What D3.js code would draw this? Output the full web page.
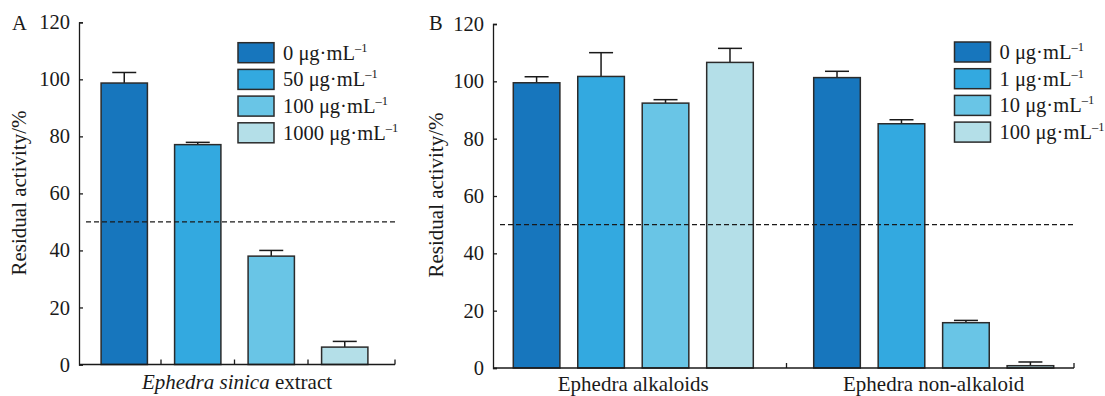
<!DOCTYPE html>
<html>
<head>
<meta charset="utf-8">
<script src="https://cdn.jsdelivr.net/npm/d3@7"></script>
<style>
  body { margin: 0; background: #fff; }
  text { font-family: "Liberation Serif", "Times New Roman", serif; fill: #1a1a1a; }
</style>
</head>
<body>
<svg id="chart" width="1105" height="396"></svg>
<script>
// panel A
var concA   = ['0', '50', '100', '1000'];
var valuesA = [98.7, 77.1, 38.0, 6.1];
var errorsA = [3.7, 0.8, 2.0, 2.0];

// panel B
var groupsB = ['Ephedra alkaloids', 'Ephedra non-alkaloid'];
var concB   = ['0', '1', '10', '100'];
var valuesB = [[99.5, 101.7, 92.4, 106.6], [101.3, 85.2, 15.8, 0.8]];
var errorsB = [[2.1, 8.3, 1.2, 4.9], [2.2, 1.4, 0.8, 1.3]];

var yTicks = [0, 20, 40, 60, 80, 100, 120];
var threshold = 50;
var colors = ['#1776bd', '#33a9e0', '#69c5e6', '#b4dfe8'];

var svg = d3.select('#chart');

function yAxis(g, y) {
    g.call(d3.axisLeft(y).tickValues(yTicks).tickSizeInner(-4).tickSizeOuter(-4).tickPadding(9));
    g.selectAll('path, line').attr('stroke', '#1a1a1a').attr('stroke-width', 1.3);
    g.selectAll('text').attr('font-size', 20.5).attr('fill', '#1a1a1a')
        .style('font-family', '"Liberation Serif", serif');
}

function legend(g, conc, x, y) {
    conc.forEach(function(c, i) {
        var row = g.append('g').attr('transform', 'translate(' + x + ',' + (y + i * 26.7) + ')');
        row.append('rect')
            .attr('width', 36).attr('height', 20)
            .attr('fill', colors[i]).attr('stroke', '#2b2b2b').attr('stroke-width', 1.5);
        var t = row.append('text').attr('x', 45).attr('y', 17).attr('font-size', 20.5);
        t.append('tspan').text(c + ' \u03bcg\u00b7mL');
        t.append('tspan').attr('font-size', 12.5).attr('dy', -8).text('\u20131');
    });
}

function errorBar(g, cx, top, errTop) {
    g.append('line').attr('x1', cx).attr('x2', cx).attr('y1', top).attr('y2', errTop)
        .attr('stroke', '#1a1a1a').attr('stroke-width', 1.5);
    g.append('line').attr('x1', cx - 12).attr('x2', cx + 12).attr('y1', errTop).attr('y2', errTop)
        .attr('stroke', '#1a1a1a').attr('stroke-width', 1.5);
}

function bar(g, x, w, y, v, e, color) {
    errorBar(g, x + w / 2, y(v), y(v + e));
    g.append('rect')
        .attr('x', x).attr('y', y(v))
        .attr('width', w).attr('height', y(0) - y(v))
        .attr('fill', color).attr('stroke', '#2b2b2b').attr('stroke-width', 1.5);
}

function yLabel(g, x, y) {
    g.append('text')
        .attr('transform', 'translate(' + x + ',' + y + ') rotate(-90)')
        .attr('text-anchor', 'middle').attr('font-size', 21)
        .text('Residual activity/%');
}

function dashed(g, x1, x2, y) {
    g.append('line')
        .attr('x1', x1).attr('x2', x2).attr('y1', y).attr('y2', y)
        .attr('stroke', '#1a1a1a').attr('stroke-width', 1.2).attr('stroke-dasharray', '5,3');
}

// ---------- panel A ----------
var axA = 79, axAEnd = 395;
var yA = d3.scaleLinear().domain([0, 120]).range([364.5, 22.3]);
var xA = d3.scaleBand().domain(concA).range([87.5, 381.5]).paddingInner(0.37).paddingOuter(0.185);

var gA = svg.append('g');

concA.forEach(function(c, i) {
    bar(gA, xA(c), xA.bandwidth(), yA, valuesA[i], errorsA[i], colors[i]);
});
dashed(gA, 86, axAEnd, yA(threshold));

gA.append('line').attr('x1', axA).attr('x2', axAEnd).attr('y1', yA(0)).attr('y2', yA(0))
    .attr('stroke', '#1a1a1a').attr('stroke-width', 1.3);
var ticksA = concA.slice(1).map(function(c) { return xA(c) - xA.step() * xA.paddingInner() / 2; });
ticksA.push(axAEnd);
ticksA.forEach(function(tx) {
    gA.append('line').attr('x1', tx).attr('x2', tx).attr('y1', yA(0)).attr('y2', yA(0) - 5)
        .attr('stroke', '#1a1a1a').attr('stroke-width', 1.3);
});

gA.append('g').attr('transform', 'translate(' + axA + ',0)').call(yAxis, yA);

legend(gA, concA, 238, 42.7);
yLabel(gA, 26, 193);

gA.append('text').attr('x', 12).attr('y', 30).attr('font-size', 20.5).text('A');

var xt = gA.append('text').attr('x', (axA + axAEnd) / 2).attr('y', 389)
    .attr('text-anchor', 'middle').attr('font-size', 21);
xt.append('tspan').attr('font-style', 'italic').text('Ephedra sinica');
xt.append('tspan').text(' extract');

// ---------- panel B ----------
var axB = 493, axBEnd = 1074;
var yB = d3.scaleLinear().domain([0, 120]).range([368, 24]);
var xB = d3.scalePoint().domain(groupsB).range([axB, axBEnd]).padding(0.467);
var xInner = d3.scaleBand().domain(concB).range([-120, 120]).paddingInner(0.277);

var gB = svg.append('g');

groupsB.forEach(function(grp, gi) {
    concB.forEach(function(c, i) {
        bar(gB, xB(grp) + xInner(c), xInner.bandwidth(), yB, valuesB[gi][i], errorsB[gi][i], colors[i]);
    });
    gB.append('text').attr('x', xB(grp)).attr('y', 391)
        .attr('text-anchor', 'middle').attr('font-size', 21).text(grp);
});
dashed(gB, 500, axBEnd, yB(threshold));

gB.append('line').attr('x1', axB).attr('x2', axBEnd).attr('y1', yB(0)).attr('y2', yB(0))
    .attr('stroke', '#1a1a1a').attr('stroke-width', 1.3);
[(xB(groupsB[0]) + xB(groupsB[1])) / 2 + 3, axBEnd].forEach(function(tx) {
    gB.append('line').attr('x1', tx).attr('x2', tx).attr('y1', yB(0)).attr('y2', yB(0) - 5)
        .attr('stroke', '#1a1a1a').attr('stroke-width', 1.3);
});

gB.append('g').attr('transform', 'translate(' + axB + ',0)').call(yAxis, yB);

legend(gB, concB, 954.5, 42);
yLabel(gB, 443, 195);

gB.append('text').attr('x', 429).attr('y', 30).attr('font-size', 20.5).text('B');
</script>
</body>
</html>
